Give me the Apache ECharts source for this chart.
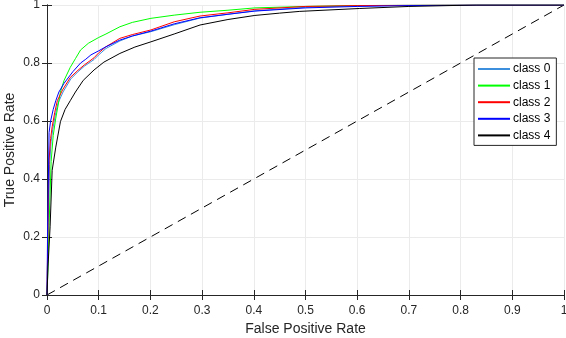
<!DOCTYPE html>
<html>
<head>
<meta charset="utf-8">
<script src="https://cdn.jsdelivr.net/npm/echarts@6/dist/echarts.min.js"></script>
<style>
    html, body { margin: 0; padding: 0; background: #fff; }
    #main { width: 566px; height: 338px; }
</style>
</head>
<body>
<div id="main"></div>
<script>
// ROC 曲线数据 [FPR, TPR]
var classNames = ['class 0', 'class 1', 'class 2', 'class 3', 'class 4'];
var classColors = ['#3b8fdc', '#00ff00', '#ff0000', '#0000ff', '#000000'];

var roc0 = [[0,0],[0.002,0.22],[0.005,0.45],[0.008,0.53],[0.011,0.57],[0.016,0.62],[0.021,0.66],[0.031,0.70],[0.046,0.745],[0.06,0.77],[0.073,0.79],[0.091,0.812],[0.1,0.828],[0.114,0.85],[0.141,0.876],[0.165,0.893],[0.201,0.908],[0.246,0.932],[0.296,0.955],[0.35,0.968],[0.402,0.98],[0.5,0.992],[0.6,0.997],[0.7,0.999],[0.83,1],[1,1]];
var roc1 = [[0,0],[0.002,0.1],[0.004,0.24],[0.008,0.46],[0.012,0.55],[0.017,0.61],[0.026,0.70],[0.033,0.74],[0.045,0.785],[0.055,0.815],[0.065,0.845],[0.08,0.868],[0.1,0.888],[0.114,0.90],[0.141,0.925],[0.165,0.94],[0.201,0.954],[0.246,0.965],[0.296,0.975],[0.35,0.982],[0.402,0.99],[0.5,0.995],[0.6,0.998],[0.7,0.999],[0.83,1],[1,1]];
var roc2 = [[0,0],[0.002,0.25],[0.004,0.465],[0.007,0.54],[0.010,0.58],[0.015,0.63],[0.020,0.67],[0.030,0.707],[0.045,0.75],[0.06,0.775],[0.072,0.793],[0.091,0.818],[0.1,0.835],[0.114,0.856],[0.141,0.885],[0.165,0.898],[0.201,0.914],[0.246,0.942],[0.296,0.962],[0.35,0.973],[0.402,0.985],[0.5,0.995],[0.6,0.998],[0.7,0.999],[0.83,1],[1,1]];
var roc3 = [[0,0],[0.001,0.2],[0.004,0.56],[0.007,0.60],[0.012,0.64],[0.017,0.67],[0.023,0.70],[0.033,0.73],[0.05,0.77],[0.065,0.80],[0.075,0.813],[0.085,0.828],[0.1,0.842],[0.114,0.856],[0.141,0.879],[0.165,0.893],[0.201,0.91],[0.246,0.935],[0.296,0.956],[0.35,0.968],[0.402,0.979],[0.5,0.99],[0.6,0.995],[0.7,0.998],[0.83,1],[1,1]];
var roc4 = [[0,0],[0.002,0.1],[0.006,0.235],[0.010,0.43],[0.017,0.51],[0.026,0.598],[0.035,0.64],[0.045,0.67],[0.055,0.70],[0.07,0.74],[0.091,0.776],[0.11,0.803],[0.141,0.833],[0.17,0.855],[0.201,0.873],[0.246,0.90],[0.296,0.931],[0.35,0.95],[0.402,0.964],[0.45,0.972],[0.489,0.978],[0.605,0.988],[0.7,0.995],[0.83,1],[1,1]];
var rocList = [roc0, roc1, roc2, roc3, roc4];

var chancePoints = [[0,0],[1,1]];
var xTicks = [0, 0.1, 0.2, 0.3, 0.4, 0.5, 0.6, 0.7, 0.8, 0.9, 1];
var yTicks = [0, 0.2, 0.4, 0.6, 0.8, 1];

var axisColor = '#262626';
var fontName = 'Liberation Sans';

var myChart = echarts.init(document.getElementById('main'));

var series = [];
for (var i = 0; i < rocList.length; i++) {
    series.push({
        name: classNames[i],
        type: 'line',
        data: rocList[i],
        showSymbol: false,
        symbol: 'none',
        lineStyle: { width: 1, color: classColors[i] },
        itemStyle: { color: classColors[i] },
        z: 3 + i
    });
}
series.push({
    name: 'chance',
    type: 'line',
    data: chancePoints,
    showSymbol: false,
    symbol: 'none',
    lineStyle: { width: 1, color: '#000', type: [9, 6] },
    z: 2
});

var fmt = function (v) { return String(Math.round(v * 10) / 10); };

var option = {
    animation: false,
    backgroundColor: '#fff',
    grid: { left: 47, right: 2, top: 5, bottom: 43, containLabel: false, outerBoundsMode: 'none' },
    legend: {
        data: classNames,
        orient: 'vertical',
        left: 474,
        top: 58,
        width: 88,
        padding: [4, 6, 3, 4],
        itemGap: 2.6,
        itemWidth: 32,
        itemHeight: 2,
        icon: 'rect',
        borderColor: axisColor,
        borderWidth: 1,
        backgroundColor: '#fff',
        textStyle: { fontFamily: fontName, fontSize: 12, color: '#000', padding: [0, 0, 0, -2], lineHeight: 14 }
    },
    xAxis: [{
        type: 'value',
        min: 0, max: 1, interval: 0.1,
        name: 'False Positive Rate',
        nameLocation: 'middle',
        nameGap: 27,
        nameMoveOverlap: false,
        nameTextStyle: { fontFamily: fontName, fontSize: 14, color: axisColor },
        axisLine: { show: true, lineStyle: { color: axisColor, width: 1 } },
        axisTick: { show: true, inside: true, length: 5, lineStyle: { color: axisColor } },
        axisLabel: { fontFamily: fontName, fontSize: 12, color: axisColor, margin: 10, formatter: fmt,
            customValues: xTicks },
        splitLine: { show: true, lineStyle: { color: '#ebebeb', width: 1 } }
    }, {
        type: 'value',
        position: 'top',
        min: 0, max: 1, interval: 0.1,
        axisLine: { show: true, lineStyle: { color: axisColor, width: 1 } },
        axisTick: { show: true, inside: true, length: 5, lineStyle: { color: axisColor } },
        axisLabel: { show: false },
        splitLine: { show: false }
    }],
    yAxis: [{
        type: 'value',
        min: 0, max: 1, interval: 0.2,
        name: 'True Positive Rate',
        nameLocation: 'middle',
        nameGap: 30,
        nameMoveOverlap: false,
        nameTextStyle: { fontFamily: fontName, fontSize: 14, color: axisColor },
        axisLine: { show: true, lineStyle: { color: axisColor, width: 1 } },
        axisTick: { show: true, inside: true, length: 5, lineStyle: { color: axisColor } },
        axisLabel: { fontFamily: fontName, fontSize: 12, color: axisColor, margin: 7, formatter: fmt,
            customValues: yTicks },
        splitLine: { show: true, lineStyle: { color: '#ebebeb', width: 1 } }
    }, {
        type: 'value',
        position: 'right',
        min: 0, max: 1, interval: 0.2,
        axisLine: { show: true, lineStyle: { color: axisColor, width: 1 } },
        axisTick: { show: true, inside: true, length: 5, lineStyle: { color: axisColor } },
        axisLabel: { show: false },
        splitLine: { show: false }
    }],
    series: series
};

myChart.setOption(option);
</script>
</body>
</html>
